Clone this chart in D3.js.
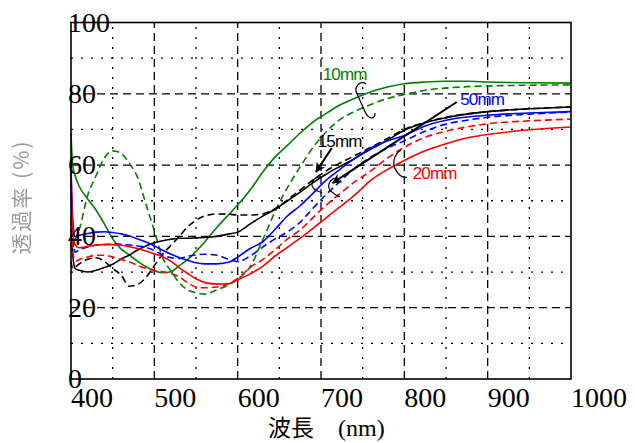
<!DOCTYPE html>
<html><head><meta charset="utf-8">
<script src="https://cdn.jsdelivr.net/npm/d3@7/dist/d3.min.js"></script>
<style>body{margin:0;background:#fff}svg{display:block}</style>
</head><body>
<svg id="c" width="635" height="443"></svg>
<script>
// ---- data ----
const wavelength = [400,402,405,410,420,430,440,450,460,470,480,490,500,510,520,530,540,550,560,575,590,600,615,630,645,660,675,690,705,720,740,760,780,800,825,850,875,900,950,1000];
const t10Solid  = [69,60,57,54,50.5,47.4,43.5,39.3,36.5,34.8,33,31.5,30.4,29.8,30.1,31.8,33.5,35.8,38.3,42.5,46.3,48.8,53,58,62.3,65.6,69,72,74.3,76.5,78.7,80.6,81.9,82.8,83.3,83.5,83.5,83.3,83.1,83];
const t10Dashed = [38,37,39,42,51.5,57,62,64,63.3,60.5,56.5,49,41.5,34,30.3,27,25,24.2,23.8,25,26.5,28,31.5,39,47,53.8,59.5,64.8,69,72.3,75,77,78.7,79.8,81,81.6,82,82.2,82.4,82.5];
const t15Solid  = [42,35,31,30.5,30,30.5,31.3,32.2,33.6,34.8,36.2,37.3,38.2,38.8,39.2,39.5,39.5,39.6,39.7,40,40.7,41.2,43.5,45.7,47.6,50,52.4,55,57.3,59.3,61.8,64.5,67,69.8,71.9,73.3,74.3,75,75.8,76.3];
const t15Dashed = [33,31,31.4,32.3,33.6,34,33,31,29.2,26,26.5,28.5,31.8,35,37.5,40,42.7,44.5,45.7,46.3,46.2,46,46,46.3,47.8,50.3,53,55.8,58.2,60.2,62.6,65,67.5,70,72,73.4,74.4,75,75.8,76.3];
const t50Solid  = [60,45,40,40.3,40.8,41.2,41.3,41.1,40.7,40.1,39.3,38.4,37.3,36.1,35,34,33.3,32.6,32.3,32.3,32.8,34.2,36.6,38.5,42,45.8,48.6,52,55.5,58.3,61.8,64.8,66.8,68.3,71,72.6,73.5,74,74.6,75];
const t50Dashed = [55,40,35.6,36.2,37,37.5,37.7,37.9,37.8,37.6,37.3,36.9,36,34.8,34,33.8,34.4,34.8,35,34.7,33.5,32.9,34.5,37,39.3,41.3,44,47.8,51.5,54.8,59,62.3,64.8,66.8,69.5,71.5,72.6,73.4,74.3,74.9];
const t20Solid  = [58,42,37.6,36.8,37.2,37.6,37.7,37.7,37.5,37.1,36.6,35.9,35.1,34.3,33,31.2,29.6,28.1,27.1,26.6,26.8,27.8,29.5,31.6,34.5,37,39.5,42.2,45,47.8,51.5,55.8,58.8,61.3,64,66,67.6,68.6,69.9,70.7];
const t20Dashed = [45,36,33,33.5,34.2,34.7,34.7,34.2,33.5,32.8,31.9,31,30.4,30.1,29.6,28.6,27,25.8,25.6,25.8,26.8,28.2,31.3,33.5,36.3,39.3,41.8,45.2,48.5,51.5,55.2,58.4,62,65,67.8,69.5,70.7,71.6,72.4,72.9];
const xTickLabels = [400,500,600,700,800,900,1000];
const yTickLabels = [0,20,40,60,80,100];
const xMinor = [450,550,650,750,850,950];
const yMinor = [10,30,50,70,90];
const labels10 = "10mm", labels15 = "15mm", labels50 = "50mm", labels20 = "20mm";

// ---- chart ----
const svg = d3.select('#c');
svg.append('rect').attr('width',635).attr('height',443).attr('fill','#fff');
const x = d3.scaleLinear().domain([400,1000]).range([71,571]);
const y = d3.scaleLinear().domain([0,100]).range([379,22.5]);

const defs = svg.append('defs');
defs.append('filter').attr('id','blur').append('feGaussianBlur').attr('stdDeviation',0.7);
defs.append('marker').attr('id','arr').attr('viewBox','0 0 10 10').attr('refX',9).attr('refY',5)
  .attr('markerWidth',5).attr('markerHeight',5).attr('orient','auto').attr('markerUnits','strokeWidth')
  .append('path').attr('d','M0,0 L10,5 L0,10 L3,5 Z').attr('fill','#000');

const g = svg.append('g');
// minor grid (dotted)
g.selectAll('.vm').data(xMinor).enter().append('line')
  .attr('x1',d=>x(d)).attr('x2',d=>x(d)).attr('y1',y(0)).attr('y2',y(100))
  .attr('stroke','#000').attr('stroke-width',1.3).attr('stroke-dasharray','2,8');
g.selectAll('.hm').data(yMinor).enter().append('line')
  .attr('y1',d=>y(d)).attr('y2',d=>y(d)).attr('x1',x(400)).attr('x2',x(1000))
  .attr('stroke','#000').attr('stroke-width',1.3).attr('stroke-dasharray','2,8');
// major grid (dashed)
g.selectAll('.vM').data(xTickLabels.slice(1,-1)).enter().append('line')
  .attr('x1',d=>x(d)).attr('x2',d=>x(d)).attr('y1',y(0)).attr('y2',y(100))
  .attr('stroke','#000').attr('stroke-width',1.3).attr('stroke-dasharray','8,5');
g.selectAll('.hM').data(yTickLabels.slice(1,-1)).enter().append('line')
  .attr('y1',d=>y(d)).attr('y2',d=>y(d)).attr('x1',x(400)).attr('x2',x(1000))
  .attr('stroke','#000').attr('stroke-width',1.3).attr('stroke-dasharray','8,5');

// curves
const series = [
  {v:t10Solid, c:'#008000', d:null},
  {v:t10Dashed, c:'#008000', d:'7,4'},
  {v:t15Solid, c:'#000000', d:null},
  {v:t15Dashed, c:'#000000', d:'7,4'},
  {v:t50Solid, c:'#0000ff', d:null},
  {v:t50Dashed, c:'#0000ff', d:'7,4'},
  {v:t20Solid, c:'#ff0000', d:null},
  {v:t20Dashed, c:'#ff0000', d:'7,4'}
];
const line = d3.line().x(d=>x(d[0])).y(d=>y(d[1])).curve(d3.curveMonotoneX);
series.forEach(s=>{
  g.append('path').datum(wavelength.map((w,i)=>[w,s.v[i]]))
   .attr('d',line).attr('fill','none').attr('stroke',s.c).attr('stroke-width',1.6)
   .attr('stroke-dasharray',s.d);
});

// frame
g.append('rect').attr('x',x(400)).attr('y',y(100)).attr('width',x(1000)-x(400)).attr('height',y(0)-y(100))
  .attr('fill','none').attr('stroke','#000').attr('stroke-width',1.6);

// annotations
function txt(t, wl, pct, col){
  svg.append('text').attr('x',x(wl)).attr('y',y(pct)).text(t).attr('fill',col)
    .attr('font-family','Liberation Sans, Arial, sans-serif').attr('font-size',17).attr('letter-spacing',-0.8);
}
txt(labels10, 702, 83.9, '#008000');
txt(labels15, 696, 65.1, '#000');
txt(labels50, 867, 76.9, '#0000ff');
txt(labels20, 810, 56.1, '#ff0000');

function brace(wl, pct, d){
  svg.append('path').attr('transform',`translate(${x(wl)},${y(pct)})`).attr('d',d)
    .attr('fill','none').attr('stroke','#000').attr('stroke-width',1.2);
}
brace(747, 83.3, 'M6,2 C0,-2 -7,5 -3,12 L5,30 C8,37 15,38 15,31');
brace(693, 56.7, 'M5,0 C-2,0 -5,7 -2,11 C1,15 4,14 7,16');
brace(713, 56.4, 'M3,0 C-4,3 -5,10 0,14 C3,17 6,18 8,19');
brace(791, 64.2, 'M4,0 C-3,4 -5,14 -1,20 C2,25 6,28 10,27');

function arrow(w1,p1,w2,p2){
  svg.append('line').attr('x1',x(w1)).attr('y1',y(p1)).attr('x2',x(w2)).attr('y2',y(p2))
    .attr('stroke','#000').attr('stroke-width',2).attr('marker-end','url(#arr)');
}
arrow(713, 64.8, 694, 58.1);
arrow(863, 77.7, 714, 55);

// tick labels
svg.selectAll('.xl').data(xTickLabels).enter().append('text')
  .attr('x',d=>x(d)).attr('y',407).text(d=>d)
  .attr('font-family','Liberation Serif, Times New Roman, serif').attr('font-size',28).attr('fill','#000');
svg.selectAll('.yl').data(yTickLabels).enter().append('text')
  .attr('x',68).attr('y',d=>y(d)+9).text(d=>d)
  .attr('font-family','Liberation Serif, Times New Roman, serif').attr('font-size',28).attr('fill','#000');

// axis titles
const xt = svg.append('text').attr('x',268).attr('y',436).attr('fill','#000');
xt.append('tspan').text('波長').attr('font-family','Noto Sans CJK JP').attr('font-size',23);
xt.append('tspan').text('　(nm)').attr('font-family','Liberation Serif, serif').attr('font-size',24);
svg.append('text').attr('transform','translate(29,197) rotate(-90)').attr('text-anchor','middle')
  .attr('font-family','Noto Sans CJK JP').attr('font-size',21).attr('letter-spacing',2)
  .attr('fill','#9a9a9a').attr('filter','url(#blur)').text('透過率 (%)');
</script>
</body></html>
